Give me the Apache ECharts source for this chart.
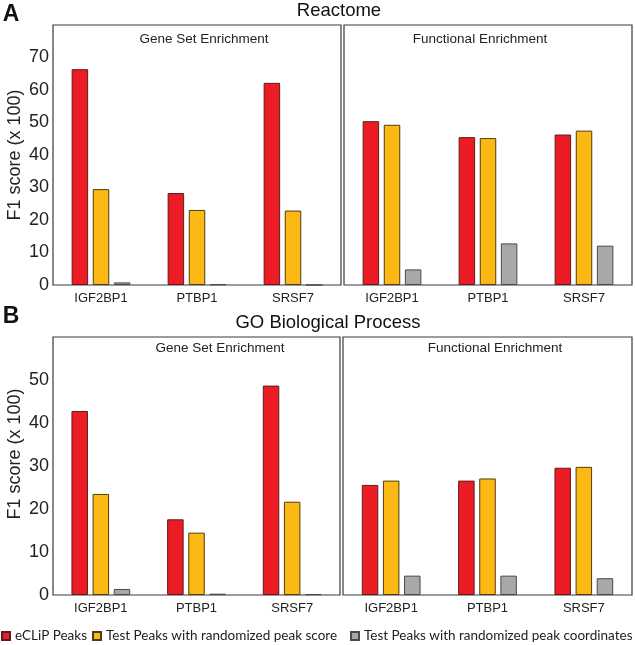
<!DOCTYPE html>
<html>
<head>
<meta charset="utf-8">
<script src="https://cdn.jsdelivr.net/npm/echarts@6/dist/echarts.min.js"></script>
<style>html,body{margin:0;padding:0;background:#fff}#c{width:635px;height:645px}</style>
</head>
<body>
<div id="c"></div>
<script>
const categories = ['IGF2BP1', 'PTBP1', 'SRSF7'];
const seriesNames = ['eCLiP Peaks', 'Test Peaks with randomized peak score', 'Test Peaks with randomized peak coordinates'];

// Reactome — Gene Set Enrichment
const reactomeGeneSetEclip  = [66.4, 28.3, 62.2];
const reactomeGeneSetScore  = [29.5, 23.1, 22.9];
const reactomeGeneSetCoords = [0.8, 0.2, 0];
// Reactome — Functional Enrichment
const reactomeFuncEclip  = [50.4, 45.5, 46.3];
const reactomeFuncScore  = [49.3, 45.2, 47.5];
const reactomeFuncCoords = [4.8, 12.8, 12.1];
// GO Biological Process — Gene Set Enrichment
const goGeneSetEclip  = [42.8, 17.6, 48.7];
const goGeneSetScore  = [23.5, 14.5, 21.7];
const goGeneSetCoords = [1.4, 0.3, 0.2];
// GO Biological Process — Functional Enrichment
const goFuncEclip  = [25.6, 26.6, 29.6];
const goFuncScore  = [26.6, 27.1, 29.8];
const goFuncCoords = [4.5, 4.5, 3.9];

const reactomeTickLabels = [0, 10, 20, 30, 40, 50, 60, 70];
const goTickLabels = [0, 10, 20, 30, 40, 50];

const panelTitles = ['Reactome', 'GO Biological Process'];
const subTitles = ['Gene Set Enrichment', 'Functional Enrichment'];
const yName = 'F1 score (x 100)';

const colors = ['#EC1C24', '#FDB913', '#A8A8A8'];
const borders = ['#5a1e1e', '#4d3d14', '#4a4a4a'];

const grids = [
  {left: 53, top: 25, width: 288, height: 260},
  {left: 344, top: 25, width: 288, height: 260},
  {left: 53, top: 337, width: 287, height: 258},
  {left: 343, top: 337, width: 289, height: 258}
];
const panelData = [
  [reactomeGeneSetEclip, reactomeGeneSetScore, reactomeGeneSetCoords],
  [reactomeFuncEclip, reactomeFuncScore, reactomeFuncCoords],
  [goGeneSetEclip, goGeneSetScore, goGeneSetCoords],
  [goFuncEclip, goFuncScore, goFuncCoords]
];
const yMax = [80, 80, 60, 60];
const tickSets = [reactomeTickLabels, reactomeTickLabels, goTickLabels, goTickLabels];

const baseFont = '"Liberation Sans", Arial, sans-serif';

const option = {
  backgroundColor: '#fff',
  animation: false,
  grid: grids.map(g => Object.assign({show: true, borderColor: '#3a3a3a', borderWidth: 1.2, backgroundColor: '#fff'}, g)),
  xAxis: grids.map((g, i) => ({
    type: 'category', gridIndex: i, data: categories,
    axisLine: {show: false}, axisTick: {show: false},
    axisLabel: {margin: 7, fontSize: 13, color: '#222', fontFamily: baseFont}
  })),
  yAxis: grids.map((g, i) => {
    const ticks = tickSets[i];
    const left = (i % 2 === 0);
    return {
      type: 'value', gridIndex: i, min: 0, max: yMax[i], interval: 10,
      axisLine: {show: false}, axisTick: {show: false}, splitLine: {show: false},
      axisLabel: {
        show: left, margin: 4, fontSize: 18, color: '#222', fontFamily: baseFont,
        formatter: v => (ticks.indexOf(v) >= 0 ? String(v) : '')
      },
      name: left ? yName : '',
      nameLocation: 'middle', nameRotate: 90, nameGap: 29,
      nameTextStyle: {fontSize: 18, color: '#222', fontFamily: baseFont,
        padding: i === 2 ? [0, 0, 0, 24] : 0}
    };
  }),
  legend: [0, 1, 2].map((k) => ({
    data: [seriesNames[k]],
    left: [1, 92, 350][k], top: 629, padding: 0,
    icon: 'rect', itemWidth: 8, itemHeight: 8,
    textStyle: {fontFamily: 'Lato, sans-serif', fontSize: 13.5, color: '#222'},
    selectedMode: false
  })),
  series: [],
  graphic: [
    {type: 'text', x: 11, y: 15, style: {text: 'A', font: 'bold 23px "Liberation Sans", Arial', fill: '#111', align: 'center', verticalAlign: 'middle'}},
    {type: 'text', x: 11, y: 317, style: {text: 'B', font: 'bold 23px "Liberation Sans", Arial', fill: '#111', align: 'center', verticalAlign: 'middle'}},
    {type: 'text', x: 339, y: 11, style: {text: panelTitles[0], font: '18.5px "Liberation Sans", Arial', fill: '#111', align: 'center', verticalAlign: 'middle'}},
    {type: 'text', x: 328, y: 323, style: {text: panelTitles[1], font: '18.5px "Liberation Sans", Arial', fill: '#111', align: 'center', verticalAlign: 'middle'}},
    {type: 'text', x: 204, y: 39, style: {text: subTitles[0], font: '13.5px "Liberation Sans", Arial', fill: '#222', align: 'center', verticalAlign: 'middle'}},
    {type: 'text', x: 480, y: 39, style: {text: subTitles[1], font: '13.5px "Liberation Sans", Arial', fill: '#222', align: 'center', verticalAlign: 'middle'}},
    {type: 'text', x: 220, y: 348, style: {text: subTitles[0], font: '13.5px "Liberation Sans", Arial', fill: '#222', align: 'center', verticalAlign: 'middle'}},
    {type: 'text', x: 495, y: 348, style: {text: subTitles[1], font: '13.5px "Liberation Sans", Arial', fill: '#222', align: 'center', verticalAlign: 'middle'}}
  ]
};

panelData.forEach((sets, i) => {
  sets.forEach((vals, k) => {
    option.series.push({
      type: 'bar', name: seriesNames[k], xAxisIndex: i, yAxisIndex: i,
      data: vals, barWidth: 16.5, barGap: '28%',
      itemStyle: {color: colors[k], borderColor: borders[k], borderWidth: 1}
    });
  });
});

const chart = echarts.init(document.getElementById('c'), null, {renderer: 'canvas'});
chart.setOption(option);
</script>
</body>
</html>
